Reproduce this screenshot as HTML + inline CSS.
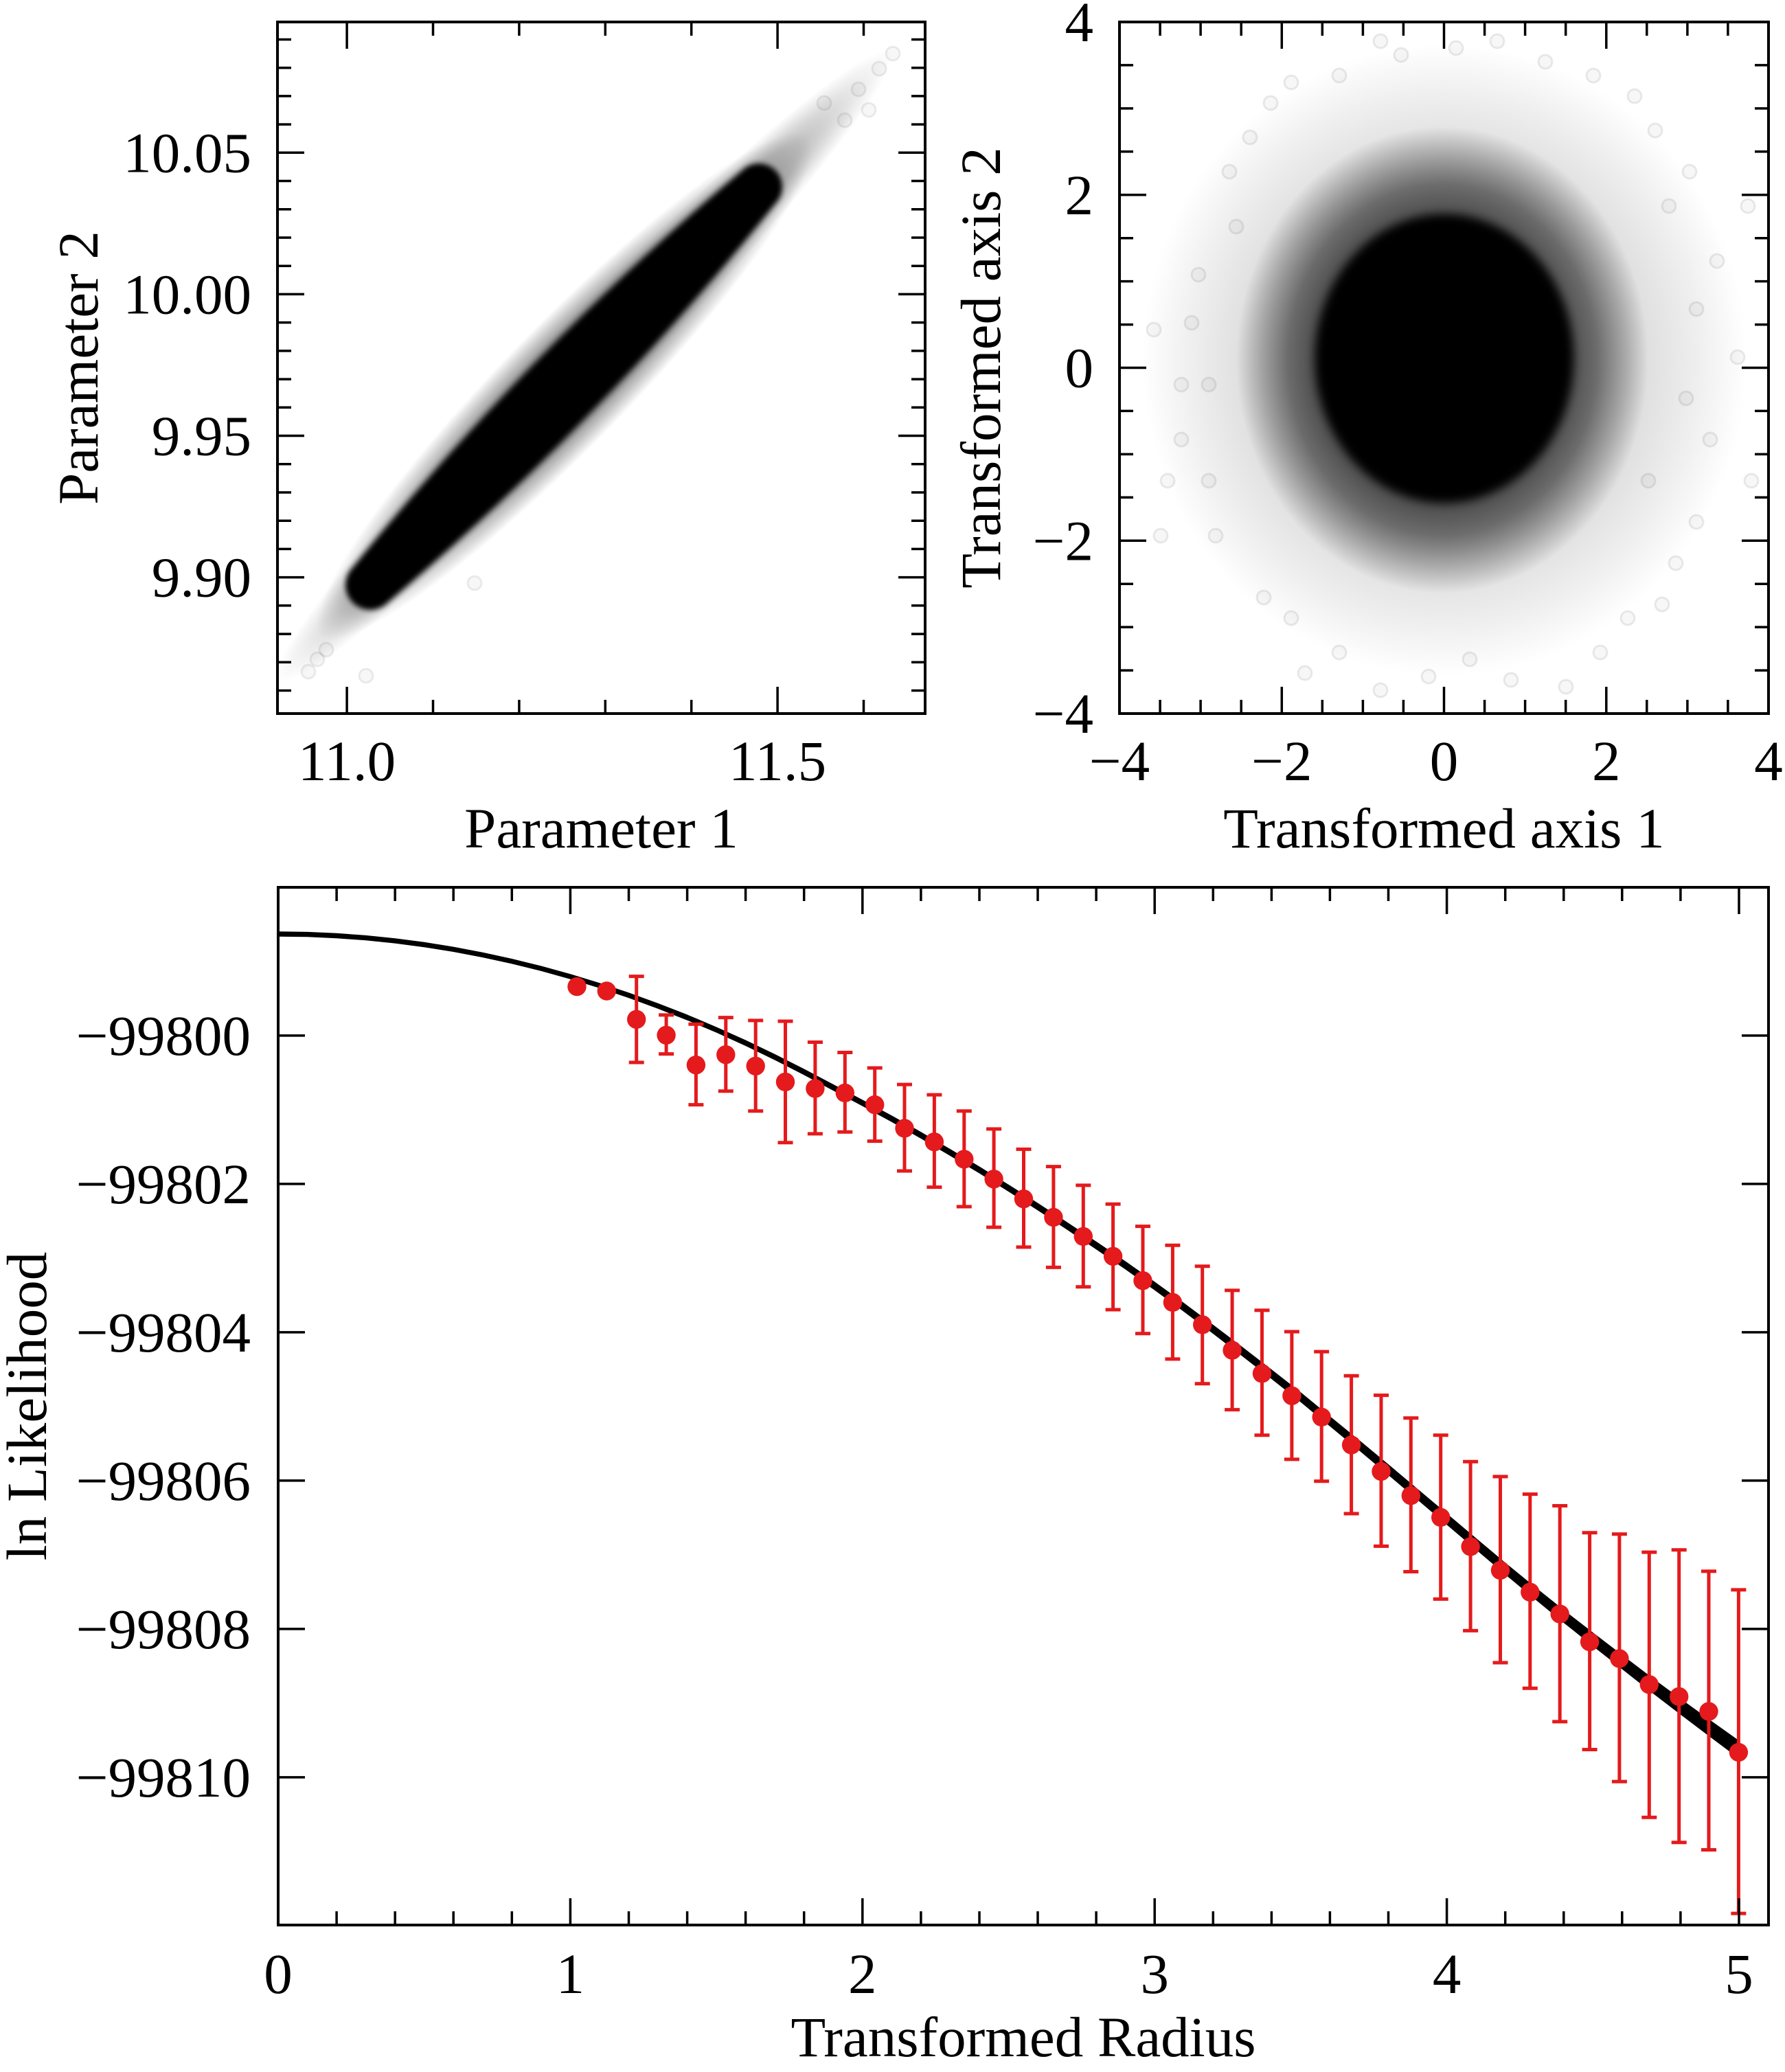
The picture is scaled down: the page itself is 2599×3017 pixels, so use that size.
<!DOCTYPE html>
<html><head><meta charset="utf-8">
<style>
html,body{margin:0;padding:0;background:#fff}
svg{display:block}
text{font-family:"Liberation Serif","DejaVu Serif",serif;font-size:83px;fill:#000}
</style></head>
<body>
<svg width="2599" height="3017" viewBox="0 0 2599 3017" xmlns="http://www.w3.org/2000/svg">
<rect width="2599" height="3017" fill="#fff"/>
<defs>
<filter id="b4" x="-20%" y="-50%" width="140%" height="200%"><feGaussianBlur stdDeviation="4"/></filter>
<filter id="b7" x="-30%" y="-30%" width="160%" height="160%"><feGaussianBlur stdDeviation="7"/></filter>
<radialGradient id="hTL"><stop offset="0" stop-color="#000" stop-opacity="0.6"/><stop offset="0.6" stop-color="#000" stop-opacity="0.45"/><stop offset="0.85" stop-color="#000" stop-opacity="0.17"/><stop offset="1" stop-color="#000" stop-opacity="0"/></radialGradient>
<radialGradient id="fTL"><stop offset="0" stop-color="#000" stop-opacity="0.38"/><stop offset="0.7" stop-color="#000" stop-opacity="0.24"/><stop offset="0.9" stop-color="#000" stop-opacity="0.07"/><stop offset="1" stop-color="#000" stop-opacity="0"/></radialGradient>
<radialGradient id="hTR"><stop offset="0" stop-color="#000" stop-opacity="0.8"/><stop offset="0.55" stop-color="#000" stop-opacity="0.72"/><stop offset="0.75" stop-color="#000" stop-opacity="0.5"/><stop offset="0.88" stop-color="#000" stop-opacity="0.24"/><stop offset="1" stop-color="#000" stop-opacity="0"/></radialGradient>
<radialGradient id="fTR"><stop offset="0" stop-color="#000" stop-opacity="0.2"/><stop offset="0.6" stop-color="#000" stop-opacity="0.15"/><stop offset="0.85" stop-color="#000" stop-opacity="0.06"/><stop offset="1" stop-color="#000" stop-opacity="0"/></radialGradient>
<clipPath id="cTL"><rect x="404" y="32" width="943" height="1007"/></clipPath>
<clipPath id="cTR"><rect x="1630" y="32" width="945" height="1007"/></clipPath>
<clipPath id="cB"><rect x="405" y="1292" width="2170" height="1511"/></clipPath>
</defs>

<!-- ===== Top-left scatter ===== -->
<g clip-path="url(#cTL)">
  <g transform="translate(822,562) rotate(-45.7)">
    <ellipse cx="40" cy="0" rx="640" ry="64" fill="url(#fTL)"/>
    <ellipse cx="0" cy="0" rx="510" ry="90" fill="url(#hTL)"/>
    <path filter="url(#b4)" fill="#000" d="M-405,-36 Q0,-72 405,-34 A34,34 0 0 1 405,34 Q0,72 -405,36 A36,36 0 0 1 -405,-36 Z"/>
  </g>
  <g fill="#000" fill-opacity="0.03" stroke="#000" stroke-opacity="0.07" stroke-width="3">
    <circle cx="1300" cy="78" r="10"/><circle cx="1280" cy="100" r="10"/><circle cx="1250" cy="130" r="10"/>
    <circle cx="1200" cy="150" r="10"/><circle cx="1230" cy="175" r="10"/><circle cx="1265" cy="160" r="10"/>
    <circle cx="691" cy="849" r="10"/><circle cx="533" cy="984" r="10"/><circle cx="449" cy="978" r="10"/>
    <circle cx="475" cy="946" r="10"/><circle cx="462" cy="960" r="10"/>
  </g>
</g>

<!-- ===== Top-right scatter ===== -->
<g clip-path="url(#cTR)">
  <ellipse cx="2103" cy="524" rx="440" ry="460" fill="url(#fTR)"/>
  <ellipse cx="2100" cy="524" rx="300" ry="340" fill="url(#hTR)"/>
  <ellipse cx="2103" cy="522" rx="188" ry="210" fill="#000" filter="url(#b7)"/>
  <g fill="#000" fill-opacity="0.03" stroke="#000" stroke-opacity="0.08" stroke-width="3">
    <circle cx="1745" cy="400" r="10"/><circle cx="1760" cy="560" r="10"/><circle cx="1720" cy="640" r="10"/>
    <circle cx="1790" cy="250" r="10"/><circle cx="1850" cy="150" r="10"/><circle cx="1950" cy="110" r="10"/>
    <circle cx="2040" cy="80" r="10"/><circle cx="2250" cy="90" r="10"/><circle cx="2380" cy="140" r="10"/>
    <circle cx="2460" cy="250" r="10"/><circle cx="2500" cy="380" r="10"/><circle cx="2530" cy="520" r="10"/>
    <circle cx="2490" cy="640" r="10"/><circle cx="2470" cy="760" r="10"/><circle cx="2420" cy="880" r="10"/>
    <circle cx="2330" cy="950" r="10"/><circle cx="2200" cy="990" r="10"/><circle cx="2080" cy="985" r="10"/>
    <circle cx="1950" cy="950" r="10"/><circle cx="1840" cy="870" r="10"/><circle cx="1770" cy="780" r="10"/>
    <circle cx="1700" cy="700" r="10"/><circle cx="1680" cy="480" r="10"/><circle cx="2010" cy="60" r="10"/>
    <circle cx="2180" cy="60" r="10"/><circle cx="2440" cy="820" r="10"/><circle cx="1800" cy="330" r="10"/>
    <circle cx="2410" cy="190" r="10"/><circle cx="1900" cy="980" r="10"/><circle cx="2280" cy="1000" r="10"/>
    <circle cx="1735" cy="470" r="10"/><circle cx="1760" cy="700" r="10"/><circle cx="1820" cy="200" r="10"/>
    <circle cx="1880" cy="120" r="10"/><circle cx="2120" cy="70" r="10"/><circle cx="2320" cy="110" r="10"/>
    <circle cx="2430" cy="300" r="10"/><circle cx="2470" cy="450" r="10"/><circle cx="2455" cy="580" r="10"/>
    <circle cx="2400" cy="700" r="10"/><circle cx="2370" cy="900" r="10"/><circle cx="2140" cy="960" r="10"/>
    <circle cx="2010" cy="1005" r="10"/><circle cx="1880" cy="900" r="10"/><circle cx="1720" cy="560" r="10"/>
    <circle cx="1690" cy="780" r="10"/><circle cx="2550" cy="700" r="10"/><circle cx="2545" cy="300" r="10"/>
  </g>
</g>

<!-- ===== Bottom panel curve ===== -->
<g clip-path="url(#cB)">
<polygon fill="#000" stroke="#000" stroke-width="1" stroke-linejoin="round" points="405,1356.8 447.5,1357.4 490.1,1359.3 532.6,1362.4 575.2,1366.7 617.7,1372.3 660.2,1379.1 702.8,1387.2 745.3,1396.5 787.9,1407 830.4,1418.7 872.9,1431.7 915.5,1445.9 958,1461.3 1000.6,1477.9 1043.1,1495.9 1085.6,1515 1128.2,1535.4 1170.7,1557 1213.3,1579.5 1255.8,1601.9 1298.3,1624.8 1340.9,1648.7 1383.4,1673.6 1426,1699 1468.5,1725.4 1511,1752.2 1553.6,1780 1596.1,1808.3 1638.7,1837.1 1681.2,1866.9 1723.7,1897.7 1766.3,1929.5 1808.8,1961.8 1851.4,1994.6 1893.9,2027.9 1936.4,2062.7 1979,2097.5 2021.5,2132.8 2064.1,2168.6 2106.6,2204.4 2149.1,2240.2 2191.7,2276 2234.2,2310.6 2276.8,2344.7 2319.3,2377.7 2361.8,2410.2 2404.4,2442.6 2446.9,2474 2489.5,2504.8 2532,2535 2532,2560 2489.5,2528.2 2446.9,2496 2404.4,2463.4 2361.8,2429.8 2319.3,2396.3 2276.8,2362.3 2234.2,2327.4 2191.7,2292 2149.1,2255.8 2106.6,2219.6 2064.1,2183.4 2021.5,2147.2 1979,2111.5 1936.4,2076.3 1893.9,2041.1 1851.4,2007.4 1808.8,1974.2 1766.3,1941.5 1723.7,1909.3 1681.2,1878.1 1638.7,1847.9 1596.1,1818.7 1553.6,1790 1511,1761.8 1468.5,1734.6 1426,1708 1383.4,1682.4 1340.9,1657.3 1298.3,1633.2 1255.8,1610.1 1213.3,1587.5 1170.7,1564.8 1128.2,1543 1085.6,1522.4 1043.1,1503.1 1000.6,1485.1 958,1468.3 915.5,1452.7 872.9,1438.3 830.4,1425.3 787.9,1413.4 745.3,1402.9 702.8,1393.6 660.2,1385.5 617.7,1378.7 575.2,1373.1 532.6,1368.8 490.1,1365.7 447.5,1363.8 405,1363.2"/>
</g>

<!-- error bars -->
<path fill="none" stroke="#e41a1c" stroke-width="5" d="M926.7 1421.6V1547M970.1 1477.9V1534.6M1013.4 1491.2V1608.6M1056.8 1481.6V1588.7M1100.2 1485.9V1617.7M1143.5 1487V1663.7M1186.9 1517.5V1650.9M1230.3 1532.5V1648.2M1273.7 1555V1661.6M1317 1579.1V1705M1360.4 1594.1V1728.6M1403.8 1617.7V1757M1447.1 1643.9V1787M1490.5 1673.4V1815.9M1533.9 1698.6V1845.4M1577.3 1725.9V1873.7M1620.6 1753.2V1907M1664 1785.6V1941.7M1707.4 1813.3V1978.9M1750.7 1843.7V2014.7M1794.1 1878.9V2052.6M1837.5 1907.9V2089.8M1880.9 1939V2124.9M1924.2 1968.1V2156.7M1967.6 2003.2V2204M2011 2031.6V2251.4M2054.3 2064.8V2288.5M2097.7 2089.8V2328.4M2141.1 2128.3V2374.4M2184.5 2150V2421M2227.8 2175.6V2458.2M2271.2 2192.5V2506.9M2314.6 2231.7V2547.5M2357.9 2233.8V2594.1M2401.3 2260.1V2646.2M2444.7 2256.8V2682.7M2488 2287.9V2693.5M2531.4 2314.9V2786.1"/>
<path fill="none" stroke="#e41a1c" stroke-width="5" d="M915.7 1421.6h22M915.7 1547h22M959.1 1477.9h22M959.1 1534.6h22M1002.4 1491.2h22M1002.4 1608.6h22M1045.8 1481.6h22M1045.8 1588.7h22M1089.2 1485.9h22M1089.2 1617.7h22M1132.5 1487h22M1132.5 1663.7h22M1175.9 1517.5h22M1175.9 1650.9h22M1219.3 1532.5h22M1219.3 1648.2h22M1262.7 1555h22M1262.7 1661.6h22M1306 1579.1h22M1306 1705h22M1349.4 1594.1h22M1349.4 1728.6h22M1392.8 1617.7h22M1392.8 1757h22M1436.1 1643.9h22M1436.1 1787h22M1479.5 1673.4h22M1479.5 1815.9h22M1522.9 1698.6h22M1522.9 1845.4h22M1566.3 1725.9h22M1566.3 1873.7h22M1609.6 1753.2h22M1609.6 1907h22M1653 1785.6h22M1653 1941.7h22M1696.4 1813.3h22M1696.4 1978.9h22M1739.7 1843.7h22M1739.7 2014.7h22M1783.1 1878.9h22M1783.1 2052.6h22M1826.5 1907.9h22M1826.5 2089.8h22M1869.9 1939h22M1869.9 2124.9h22M1913.2 1968.1h22M1913.2 2156.7h22M1956.6 2003.2h22M1956.6 2204h22M2000 2031.6h22M2000 2251.4h22M2043.3 2064.8h22M2043.3 2288.5h22M2086.7 2089.8h22M2086.7 2328.4h22M2130.1 2128.3h22M2130.1 2374.4h22M2173.5 2150h22M2173.5 2421h22M2216.8 2175.6h22M2216.8 2458.2h22M2260.2 2192.5h22M2260.2 2506.9h22M2303.6 2231.7h22M2303.6 2547.5h22M2346.9 2233.8h22M2346.9 2594.1h22M2390.3 2260.1h22M2390.3 2646.2h22M2433.7 2256.8h22M2433.7 2682.7h22M2477 2287.9h22M2477 2693.5h22M2520.4 2314.9h22M2520.4 2786.1h22"/>
<!-- points -->
<g fill="#e41a1c">
<circle cx="840" cy="1436.6" r="13.7"/><circle cx="883.3" cy="1443" r="13.7"/><circle cx="926.7" cy="1484.3" r="13.7"/><circle cx="970.1" cy="1507.3" r="13.7"/><circle cx="1013.4" cy="1550.7" r="13.7"/><circle cx="1056.8" cy="1535.7" r="13.7"/><circle cx="1100.2" cy="1552.3" r="13.7"/><circle cx="1143.5" cy="1575.4" r="13.7"/><circle cx="1186.9" cy="1585" r="13.7"/><circle cx="1230.3" cy="1591.4" r="13.7"/><circle cx="1273.7" cy="1608.6" r="13.7"/><circle cx="1317" cy="1642.9" r="13.7"/><circle cx="1360.4" cy="1662.7" r="13.7"/><circle cx="1403.8" cy="1687.9" r="13.7"/><circle cx="1447.1" cy="1716.8" r="13.7"/><circle cx="1490.5" cy="1745.7" r="13.7"/><circle cx="1533.9" cy="1772.5" r="13.7"/><circle cx="1577.3" cy="1800.4" r="13.7"/><circle cx="1620.6" cy="1829.3" r="13.7"/><circle cx="1664" cy="1864.7" r="13.7"/><circle cx="1707.4" cy="1896.4" r="13.7"/><circle cx="1750.7" cy="1928.9" r="13.7"/><circle cx="1794.1" cy="1966.1" r="13.7"/><circle cx="1837.5" cy="1999.9" r="13.7"/><circle cx="1880.9" cy="2032.3" r="13.7"/><circle cx="1924.2" cy="2063.4" r="13.7"/><circle cx="1967.6" cy="2104" r="13.7"/><circle cx="2011" cy="2142.5" r="13.7"/><circle cx="2054.3" cy="2177.7" r="13.7"/><circle cx="2097.7" cy="2209.4" r="13.7"/><circle cx="2141.1" cy="2252" r="13.7"/><circle cx="2184.5" cy="2286.5" r="13.7"/><circle cx="2227.8" cy="2318.3" r="13.7"/><circle cx="2271.2" cy="2350.1" r="13.7"/><circle cx="2314.6" cy="2390.6" r="13.7"/><circle cx="2357.9" cy="2415" r="13.7"/><circle cx="2401.3" cy="2452.8" r="13.7"/><circle cx="2444.7" cy="2470.4" r="13.7"/><circle cx="2488" cy="2492" r="13.7"/><circle cx="2531.4" cy="2551.5" r="13.7"/>
</g>

<!-- ===== Spines ===== -->
<g fill="none" stroke="#000" stroke-width="4">
<rect x="404" y="32" width="943" height="1007"/>
<rect x="1630" y="32" width="945" height="1007"/>
<rect x="405" y="1292" width="2170" height="1511"/>
</g>

<!-- ===== Ticks ===== -->
<g fill="none" stroke="#000" stroke-width="3.5">
<path d="M404 222.3h39M404 428.4h39M404 634.5h39M404 840.6h39M1347 222.3h-39M1347 428.4h-39M1347 634.5h-39M1347 840.6h-39
M404 1005.5h20M404 964.3h20M404 923.1h20M404 881.8h20M404 799.4h20M404 758.2h20M404 717h20M404 675.7h20M404 593.3h20M404 552.1h20M404 510.9h20M404 469.6h20M404 387.2h20M404 346h20M404 304.8h20M404 263.5h20M404 181.1h20M404 139.9h20M404 98.7h20M404 57.5h20
M1347 1005.5h-20M1347 964.3h-20M1347 923.1h-20M1347 881.8h-20M1347 799.4h-20M1347 758.2h-20M1347 717h-20M1347 675.7h-20M1347 593.3h-20M1347 552.1h-20M1347 510.9h-20M1347 469.6h-20M1347 387.2h-20M1347 346h-20M1347 304.8h-20M1347 263.5h-20M1347 181.1h-20M1347 139.9h-20M1347 98.7h-20M1347 57.5h-20
M505.1 1039v-39M1132.1 1039v-39M505.1 32v39M1132.1 32v39
M630.5 1039v-20M755.9 1039v-20M881.3 1039v-20M1006.7 1039v-20M1257.5 1039v-20
M630.5 32v20M755.9 32v20M881.3 32v20M1006.7 32v20M1257.5 32v20"/>
<path d="M1630 283.75h39M1630 535.5h39M1630 787.25h39M2575 283.75h-39M2575 535.5h-39M2575 787.25h-39
M1630 94.9h20M1630 157.9h20M1630 220.8h20M1630 346.7h20M1630 409.6h20M1630 472.6h20M1630 598.4h20M1630 661.4h20M1630 724.3h20M1630 850.2h20M1630 913.1h20M1630 976.1h20
M2575 94.9h-20M2575 157.9h-20M2575 220.8h-20M2575 346.7h-20M2575 409.6h-20M2575 472.6h-20M2575 598.4h-20M2575 661.4h-20M2575 724.3h-20M2575 850.2h-20M2575 913.1h-20M2575 976.1h-20
M1866.3 1039v-39M2102.5 1039v-39M2338.8 1039v-39M1866.3 32v39M2102.5 32v39M2338.8 32v39
M1689.1 1039v-20M1748.1 1039v-20M1807.2 1039v-20M1925.3 1039v-20M1984.4 1039v-20M2043.4 1039v-20M2161.6 1039v-20M2220.6 1039v-20M2279.7 1039v-20M2397.8 1039v-20M2456.9 1039v-20M2515.9 1039v-20
M1689.1 32v20M1748.1 32v20M1807.2 32v20M1925.3 32v20M1984.4 32v20M2043.4 32v20M2161.6 32v20M2220.6 32v20M2279.7 32v20M2397.8 32v20M2456.9 32v20M2515.9 32v20"/>
<path d="M405 1507.9h39M405 1723.9h39M405 1939.9h39M405 2155.9h39M405 2371.9h39M405 2587.9h39
M2575 1507.9h-39M2575 1723.9h-39M2575 1939.9h-39M2575 2155.9h-39M2575 2371.9h-39M2575 2587.9h-39
M830.4 2803v-39M1255.8 2803v-39M1681.2 2803v-39M2106.6 2803v-39M2532 2803v-39
M830.4 1292v39M1255.8 1292v39M1681.2 1292v39M2106.6 1292v39M2532 1292v39
M490.1 2803v-20M575.2 2803v-20M660.2 2803v-20M745.3 2803v-20M915.5 2803v-20M1000.6 2803v-20M1085.6 2803v-20M1170.7 2803v-20M1340.9 2803v-20M1426 2803v-20M1511 2803v-20M1596.1 2803v-20M1766.3 2803v-20M1851.4 2803v-20M1936.4 2803v-20M2021.5 2803v-20M2191.7 2803v-20M2276.8 2803v-20M2361.8 2803v-20M2446.9 2803v-20
M490.1 1292v20M575.2 1292v20M660.2 1292v20M745.3 1292v20M915.5 1292v20M1000.6 1292v20M1085.6 1292v20M1170.7 1292v20M1340.9 1292v20M1426 1292v20M1511 1292v20M1596.1 1292v20M1766.3 1292v20M1851.4 1292v20M1936.4 1292v20M2021.5 1292v20M2191.7 1292v20M2276.8 1292v20M2361.8 1292v20M2446.9 1292v20"/>
</g>

<!-- ===== Text ===== -->
<g text-anchor="end">
<text x="366" y="250.3">10.05</text>
<text x="366" y="456.4">10.00</text>
<text x="366" y="662.5">9.95</text>
<text x="366" y="868.6">9.90</text>
</g>
<g text-anchor="middle">
<text x="505.1" y="1136">11.0</text>
<text x="1132.1" y="1136">11.5</text>
<text x="875.5" y="1234">Parameter 1</text>
<text transform="translate(142,535.5) rotate(-90)">Parameter 2</text>
</g>
<g text-anchor="end">
<text x="1592" y="60">4</text>
<text x="1592" y="311.75">2</text>
<text x="1592" y="563.5">0</text>
<text x="1592" y="815.25">−2</text>
<text x="1592" y="1067">−4</text>
</g>
<g text-anchor="middle">
<text x="1630" y="1136">−4</text>
<text x="1866.3" y="1136">−2</text>
<text x="2102.5" y="1136">0</text>
<text x="2338.8" y="1136">2</text>
<text x="2575" y="1136">4</text>
<text x="2102.5" y="1234">Transformed axis 1</text>
<text transform="translate(1456,535.5) rotate(-90)">Transformed axis 2</text>
</g>
<g text-anchor="end">
<text x="365" y="1535.9">−99800</text>
<text x="365" y="1751.9">−99802</text>
<text x="365" y="1967.9">−99804</text>
<text x="365" y="2183.9">−99806</text>
<text x="365" y="2399.9">−99808</text>
<text x="365" y="2615.9">−99810</text>
</g>
<g text-anchor="middle">
<text x="405" y="2902">0</text>
<text x="830.4" y="2902">1</text>
<text x="1255.8" y="2902">2</text>
<text x="1681.2" y="2902">3</text>
<text x="2106.6" y="2902">4</text>
<text x="2532" y="2902">5</text>
<text x="1490" y="2994">Transformed Radius</text>
<text transform="translate(67,2047.5) rotate(-90)">ln Likelihood</text>
</g>
</svg>
</body></html>
